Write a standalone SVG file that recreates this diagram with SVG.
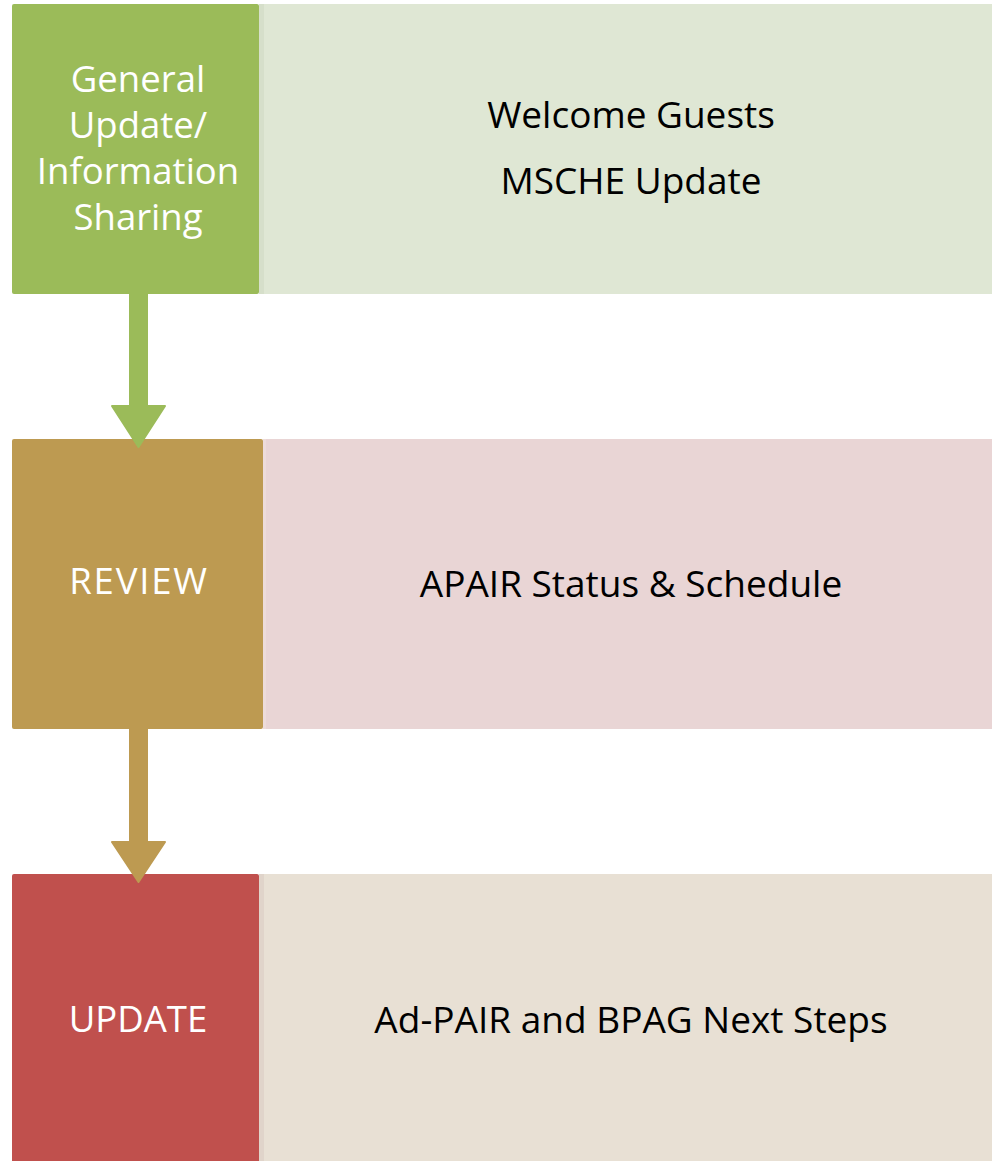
<svg xmlns="http://www.w3.org/2000/svg" width="992" height="1161" viewBox="0 0 992 1161">
  <style>
    .label { font-family: "Open Sans", "Noto Sans", sans-serif; font-size: 36.5px; fill: #ffffff; text-anchor: middle; }
    .item { font-family: "Open Sans", "Noto Sans", sans-serif; font-size: 37px; fill: #000000; text-anchor: middle; }
  </style>
  <rect width="992" height="1161" fill="#ffffff"/>

  <!-- stage 1 -->
  <g id="stage-general">
    <rect x="259" y="4" width="740" height="290" fill="#DFE7D4"/>
    <rect x="259" y="4" width="5" height="290" fill="#D6DFCA"/>
    <rect x="12" y="4" width="247" height="290" rx="2" fill="#9BBB59"/>
    <text class="label" x="138" y="92">General</text>
    <text class="label" x="138" y="138">Update/</text>
    <text class="label" x="138" y="184">Information</text>
    <text class="label" x="138" y="230">Sharing</text>
    <text class="item" x="631" y="128">Welcome Guests</text>
    <text class="item" x="631" y="194">MSCHE Update</text>
  </g>

  <!-- stage 2 -->
  <g id="stage-review">
    <rect x="263" y="439" width="736" height="290" fill="#E9D5D5"/>
    <rect x="263" y="439" width="3" height="290" fill="#EDDCDA"/>
    <rect x="12" y="439" width="251" height="290" rx="2" fill="#BD9A51"/>
    <text class="label" x="139" y="594" letter-spacing="1.8">REVIEW</text>
    <text class="item" x="631" y="597">APAIR Status &amp; Schedule</text>
  </g>

  <!-- stage 3 -->
  <g id="stage-update">
    <rect x="259" y="874" width="740" height="300" fill="#E8E0D4"/>
    <rect x="259" y="874" width="5" height="300" fill="#E0D4CA"/>
    <rect x="12" y="874" width="247" height="300" rx="2" fill="#C0504D"/>
    <text class="label" x="138" y="1032">UPDATE</text>
    <text class="item" x="631" y="1033">Ad-PAIR and BPAG Next Steps</text>
  </g>

  <!-- connectors -->
  <g id="connectors" stroke-linejoin="round" stroke-width="2">
    <path d="M130,294 L147,294 L147,406 L165,406 L138.5,447 L112,406 L130,406 Z" fill="#9BBB59" stroke="#9BBB59"/>
    <path d="M130,729 L147,729 L147,842 L165,842 L138.5,882 L112,842 L130,842 Z" fill="#BD9A51" stroke="#BD9A51"/>
  </g>
</svg>
